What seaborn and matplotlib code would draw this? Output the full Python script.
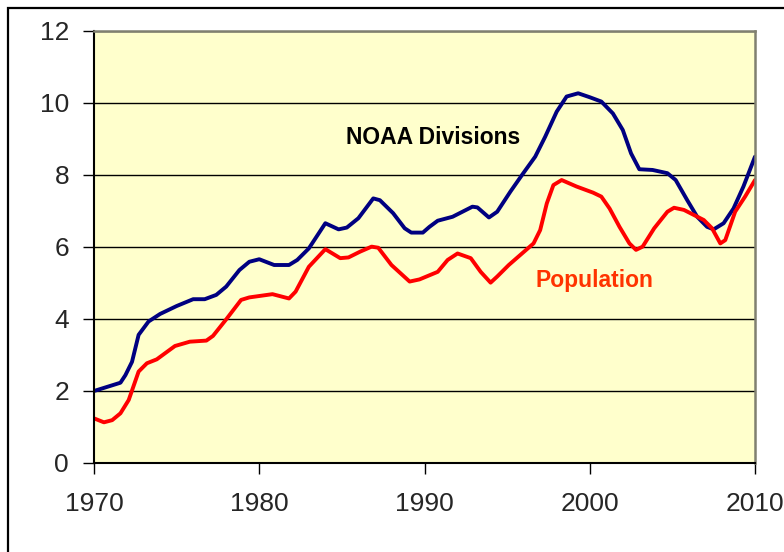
import pandas as pd
import seaborn as sns
import matplotlib.pyplot as plt
from matplotlib.patches import Rectangle

# values
noaa_years = [1970.0, 1971.6, 1971.9, 1972.3, 1972.7, 1973.3, 1974.0, 1975.0, 1976.0, 1976.7,
              1977.4, 1978.0, 1978.8, 1979.4, 1980.0, 1980.9, 1981.8, 1982.3, 1983.0, 1983.6,
              1984.0, 1984.8, 1985.3, 1986.0, 1986.9, 1987.3, 1988.1, 1988.8, 1989.2, 1989.9,
              1990.3, 1990.8, 1991.7, 1992.9, 1993.2, 1993.9, 1994.4, 1995.2, 1995.9, 1996.7,
              1997.3, 1998.0, 1998.6, 1999.3, 2000.0, 2000.7, 2001.4, 2002.0, 2002.5, 2003.0,
              2003.8, 2004.7, 2005.2, 2005.9, 2006.5, 2007.1, 2007.5, 2008.1, 2008.7, 2009.3,
              2010.0]
noaa_values = [2.00, 2.23, 2.44, 2.81, 3.56, 3.93, 4.14, 4.36, 4.55, 4.55,
               4.67, 4.90, 5.36, 5.59, 5.66, 5.50, 5.50, 5.64, 5.96, 6.38,
               6.66, 6.49, 6.54, 6.80, 7.35, 7.30, 6.94, 6.52, 6.40, 6.40,
               6.56, 6.73, 6.84, 7.12, 7.10, 6.82, 6.98, 7.54, 8.00, 8.51,
               9.06, 9.76, 10.18, 10.27, 10.16, 10.04, 9.71, 9.25, 8.60, 8.16,
               8.14, 8.05, 7.86, 7.30, 6.84, 6.56, 6.49, 6.66, 7.07, 7.68,
               8.51]

pop_years = [1970.0, 1970.6, 1971.1, 1971.6, 1972.1, 1972.7, 1973.2, 1973.8, 1974.9, 1975.8,
             1976.8, 1977.2, 1978.0, 1978.9, 1979.4, 1980.8, 1981.8, 1982.2, 1983.0, 1984.0,
             1984.9, 1985.4, 1986.1, 1986.8, 1987.2, 1988.0, 1989.1, 1989.7, 1990.8, 1991.4,
             1992.0, 1992.8, 1993.4, 1994.0, 1994.4, 1995.1, 1995.8, 1996.6, 1997.0, 1997.4,
             1997.8, 1998.3, 1999.2, 2000.2, 2000.7, 2001.2, 2001.8, 2002.4, 2002.8, 2003.2,
             2003.9, 2004.7, 2005.1, 2005.7, 2006.3, 2006.9, 2007.4, 2007.9, 2008.2, 2008.8,
             2009.4, 2010.0]
pop_values = [1.24, 1.13, 1.19, 1.38, 1.75, 2.54, 2.77, 2.88, 3.25, 3.37,
              3.40, 3.53, 3.99, 4.53, 4.60, 4.69, 4.57, 4.76, 5.45, 5.94,
              5.69, 5.71, 5.87, 6.01, 5.98, 5.50, 5.04, 5.10, 5.31, 5.64,
              5.82, 5.69, 5.31, 5.01, 5.18, 5.50, 5.78, 6.10, 6.47, 7.21,
              7.72, 7.86, 7.68, 7.51, 7.40, 7.07, 6.56, 6.10, 5.92, 6.01,
              6.52, 6.98, 7.09, 7.03, 6.89, 6.75, 6.52, 6.10, 6.19, 6.98,
              7.40, 7.86]

x_ticks = [1970, 1980, 1990, 2000, 2010]
y_ticks = [0, 2, 4, 6, 8, 10, 12]

noaa = pd.DataFrame({"year": noaa_years, "value": noaa_values})
pop = pd.DataFrame({"year": pop_years, "value": pop_values})

sns.set_style("white")
plt.rcParams['font.family'] = ['Liberation Sans', 'DejaVu Sans']

fig = plt.figure(figsize=(7.84, 5.52), dpi=100)
ax = fig.add_axes([94 / 784, 1 - 463 / 552, 661 / 784, 432 / 552])
ax.set_facecolor('#FFFFCC')

sns.lineplot(data=noaa, x="year", y="value", color='#000080', linewidth=2.8,
             solid_joinstyle='round', solid_capstyle='round', ax=ax)
sns.lineplot(data=pop, x="year", y="value", color='#FF0000', linewidth=2.8,
             solid_joinstyle='round', solid_capstyle='round', ax=ax)

ax.set_xlim(1970, 2010)
ax.set_ylim(0, 12)
ax.set_xticks(x_ticks)
ax.set_yticks(y_ticks)
ax.set(xlabel='', ylabel='')
ax.set_axisbelow(True)
ax.yaxis.grid(True, color='black', linewidth=1)
ax.xaxis.grid(False)

for side in ['left', 'bottom']:
    ax.spines[side].set_color('black')
    ax.spines[side].set_linewidth(1.5)
for side in ['top', 'right']:
    ax.spines[side].set_color('#808070')
    ax.spines[side].set_linewidth(1.8)

ax.tick_params(axis='x', direction='out', length=8, width=1, color='black',
               labelsize=19, pad=13, bottom=True)
ax.tick_params(axis='y', direction='out', length=8, width=1, color='black',
               labelsize=19, pad=10, left=True)

ax.text(1990.5, 9.03, "NOAA Divisions", ha='center', va='center',
        fontsize=16.5, fontweight='bold', color='black')
ax.text(2000.3, 5.08, "Population", ha='center', va='center',
        fontsize=16.5, fontweight='bold', color='#FF3300')

# black frame round the chart, running off the right and bottom edges
fig.patches.append(Rectangle((8 / 784, -0.1), 1.2, 1 - 8 / 552 + 0.1,
                             transform=fig.transFigure, fill=False,
                             edgecolor='black', linewidth=1.6))

plt.savefig('out.png', dpi=100)
